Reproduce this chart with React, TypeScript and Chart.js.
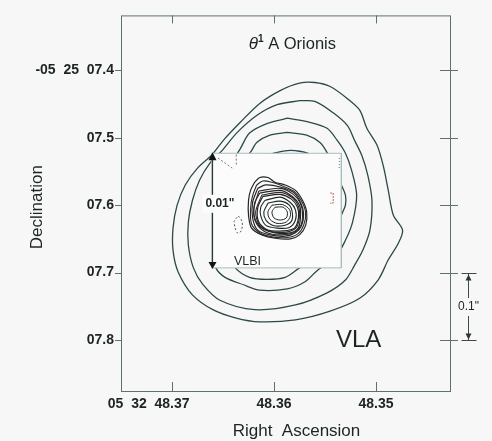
import React, { useEffect, useRef } from 'react';
import { Chart, registerables } from 'chart.js';
Chart.register(...registerables);

// Right Ascension offsets: units of 0.0001 s of time from 05 32 48.3600 (positive = east = left)
// Declination offsets: milliarcsec from -05 25 07.600 (positive = south = down)
const raTickValues = [100, 0, -100];
const raTickLabels = ['48.37', '48.36', '48.35'];
const raTickPrefix = '05  32';
const decTickValues = [-200, -100, 0, 100, 200];
const decTickLabels = ['-05  25  07.4', '07.5', '07.6', '07.7', '07.8'];
const raRange = [150, -172.5];
const decRange = [-281.5, 275.6];

// VLA contours (outer to inner)
const vla1 = [[61,-74],[48,-99],[33,-123],[14,-151],[-6,-170],[-25,-181],[-40,-182],[-55,-176],[-72,-158],[-84,-141],[-91,-114],[-101,-89],[-107,-59],[-112,-22],[-117,15],[-126,37],[-122,56],[-112,81],[-102,111],[-84,138],[-55,157],[-21,170],[14,173],[38,167],[60,155],[80,133],[94,99],[99,67],[99,34],[95,0],[87,-30],[75,-55]];
const vla2 = [[-25,-155],[-40,-154],[-58,-137],[-72,-118],[-79,-96],[-86,-74],[-92,-44],[-96,-7],[-94,37],[-87,67],[-79,89],[-70,111],[-52,130],[-21,148],[19,155],[53,141],[70,117],[79,93],[84,59],[84,25],[80,-7],[73,-37],[63,-62],[51,-81],[36,-108],[17,-133],[-3,-149]];
const vla3 = [[-13,-129],[-35,-123],[-52,-114],[-62,-96],[-70,-77],[-76,-52],[-81,-15],[-77,25],[-70,52],[-60,78],[-43,96],[-30,114],[-13,124],[14,126],[30,118],[48,107],[57,93],[60,67],[59,22],[53,-22],[43,-59],[33,-84],[24,-107],[7,-121]];
const vla4 = [[-13,-108],[-32,-104],[-45,-93],[-52,-78],[-60,-52],[-66,-30],[-70,-15],[-70,0],[-66,15],[-60,44],[-45,74],[-25,93],[-11,107],[7,110],[24,107],[38,93],[48,67],[51,22],[45,-22],[33,-59],[22,-81],[17,-93],[4,-104]];
const vla5 = [[1,-77],[-13,-81],[-25,-80],[-35,-75],[-45,-44],[-40,37],[-6,67],[24,37],[28,-30],[16,-64]];

// VLBI inset box (drawn in the same frame) and its contours
const insetRa = [61, -66];
const insetDec = [-77, 93];
const vlbi1 = [[19,-34],[14,-41],[6,-41],[-1,-34],[-11,-30],[-21,-22],[-28,-7],[-32,10],[-31,30],[-25,44],[-16,50],[-1,49],[12,44],[22,34],[25,15],[25,-7],[23,-22]];
const vlbi1b = [[17,-30],[11,-36],[2,-34],[-9,-28],[-20,-20],[-27,-6],[-31,11],[-29,30],[-23,43],[-13,48],[2,47],[14,41],[22,28],[23,5],[21,-14]];
const vlbi2 = [[16,-25],[8,-30],[-6,-27],[-19,-19],[-26,-4],[-29,12],[-27,30],[-21,41],[-11,46],[4,44],[16,37],[21,19],[21,-4]];
const vlbi2b = [[15,-21],[-6,-25],[-19,-16],[-26,-2],[-28,14],[-26,31],[-19,41],[-6,44],[8,40],[17,28],[20,8]];
const vlbi3 = [[14,-18],[-6,-22],[-18,-13],[-25,0],[-26,15],[-24,33],[-16,41],[-1,41],[12,34],[19,19],[19,-3]];
const vlbi3b = [[12,-15],[-6,-19],[-18,-11],[-24,2],[-25,16],[-22,33],[-12,40],[3,39],[14,30],[18,10]];
const vlbi4 = [[11,-13],[-6,-16],[-17,-9],[-23,3],[-24,18],[-20,34],[-9,38],[6,37],[15,25],[16,4]];
const vlbi5 = [[9,-7],[-6,-12],[-16,-4],[-21,7],[-21,22],[-15,33],[-3,34],[8,30],[13,16],[13,3]];
const vlbi6 = [[6,-3],[-6,-6],[-15,0],[-18,12],[-17,24],[-10,30],[1,30],[8,22],[10,10]];
const vlbi7 = [[2,0],[-8,-1],[-15,6],[-16,16],[-12,25],[-3,27],[4,21],[6,10]];
const vlbi8 = [[-1,3],[-9,3],[-13,10],[-12,19],[-6,22],[0,19],[2,10]];
const vlbiNeg1 = [[35,16],[32,22],[31,31],[33,40],[36,41],[38,34],[39,24]];
const vlbiNeg2 = [[55,-70],[41,-55]];
const vlbiNeg3 = [[37,-75],[37,-59]];
const vlbiNeg4 = [[-55,-18],[-58,-18],[-58,-3],[-55,-3]];
const vlbiNeg5 = [[-64,-70],[-64,-52]];

const scaleBarDec = [100, 200];

const FONT = "'Liberation Sans', Arial, Helvetica, sans-serif";
const BG = '#f7f7f7';
const INSET_BG = '#fcfcfc';
const LINE = '#2c4848';
const VLBI_LINE = '#1e2828';
const VLBI_LINE2 = '#3a2626';
const FRAME = '#5a7272';
const TXT = '#1c2424';

const toPts = (arr: number[][], close: boolean) => {
  const a = close ? arr.concat([arr[0]]) : arr;
  return a.map(([x, y]) => ({ x, y }));
};

const contour = (arr: number[][], color: string, width: number, order: number, close = true, dash: number[] = [], tension = 0.3) => ({
  data: toPts(arr, close),
  showLine: true,
  borderColor: color,
  backgroundColor: color,
  borderWidth: width,
  borderDash: dash,
  pointRadius: 0,
  tension,
  fill: false,
  order,
});

const decor = {
  id: 'decor',
  afterDatasetsDraw(chart: any) {
    const { ctx, scales: { x, y } } = chart;
    ctx.save();
    // arrow along left side of inset (0.01")
    const ax = Math.round(x.getPixelForValue(insetRa[0])) + 0.5;
    const ay0 = y.getPixelForValue(insetDec[0]);
    const ay1 = y.getPixelForValue(insetDec[1]);
    ctx.strokeStyle = '#303838';
    ctx.fillStyle = '#101414';
    ctx.lineWidth = 1.2;
    ctx.beginPath(); ctx.moveTo(ax, ay0 + 5); ctx.lineTo(ax, ay1 - 5); ctx.stroke();
    ctx.beginPath(); ctx.moveTo(ax, ay0 - 1); ctx.lineTo(ax - 4, ay0 + 7); ctx.lineTo(ax + 4, ay0 + 7); ctx.closePath(); ctx.fill();
    ctx.beginPath(); ctx.moveTo(ax, ay1 + 1); ctx.lineTo(ax - 4, ay1 - 6); ctx.lineTo(ax + 4, ay1 - 6); ctx.closePath(); ctx.fill();
    // 0.01" label
    ctx.font = `bold 12px ${FONT}`;
    ctx.textAlign = 'center';
    ctx.textBaseline = 'middle';
    const lx = x.getPixelForValue(53), ly = y.getPixelForValue(-2);
    const lw = ctx.measureText('0.01"').width;
    ctx.fillStyle = INSET_BG;
    ctx.fillRect(lx - lw / 2 - 3, ly - 9, lw + 6, 18);
    ctx.fillStyle = TXT;
    ctx.fillText('0.01"', lx, ly);
    // VLBI label
    ctx.font = `12.5px ${FONT}`;
    ctx.fillText('VLBI', x.getPixelForValue(26), y.getPixelForValue(83));
    // VLA label
    ctx.font = `24px ${FONT}`;
    ctx.fillText('VLA', x.getPixelForValue(-83), y.getPixelForValue(200));
    // Title
    const tx = x.getPixelForValue(-18), ty = y.getPixelForValue(-238);
    ctx.font = `italic 17px ${FONT}`;
    const w1 = ctx.measureText('\u03b8').width;
    ctx.font = `bold 10px ${FONT}`;
    const w2 = ctx.measureText('1').width;
    ctx.font = `16.5px ${FONT}`;
    const w3 = ctx.measureText(' A Orionis').width;
    let sx = tx - (w1 + w2 + w3) / 2;
    ctx.textAlign = 'left';
    ctx.font = `italic 17px ${FONT}`;
    ctx.fillText('\u03b8', sx, ty); sx += w1;
    ctx.font = `bold 10px ${FONT}`;
    ctx.fillText('1', sx, ty - 5); sx += w2;
    ctx.font = `16.5px ${FONT}`;
    ctx.fillText(' A Orionis', sx, ty);
    ctx.restore();
  },
  afterDraw(chart: any) {
    const { ctx, chartArea: { left, right, top, bottom }, scales: { x, y } } = chart;
    ctx.save();
    ctx.strokeStyle = FRAME;
    ctx.lineWidth = 1;
    const seg = (x0: number, y0: number, x1: number, y1: number) => { ctx.beginPath(); ctx.moveTo(x0, y0); ctx.lineTo(x1, y1); ctx.stroke(); };
    ctx.strokeRect(left + 0.5, top + 0.5, right - left, bottom - top);
    raTickValues.forEach((v) => {
      const px = Math.round(x.getPixelForValue(v)) + 0.5;
      seg(px, top, px, top + 8);
      seg(px, bottom, px, bottom - 9);
    });
    decTickValues.forEach((v) => {
      const py = Math.round(y.getPixelForValue(v)) + 0.5;
      seg(left - 6, py, left, py);
      seg(right - 10, py, right + 8, py);
    });
    // prefix of first RA label
    ctx.fillStyle = TXT;
    ctx.font = `bold 14px ${FONT}`;
    ctx.textBaseline = 'middle';
    ctx.textAlign = 'right';
    const w0 = ctx.measureText(raTickLabels[0]).width;
    const sp = ctx.measureText('  ').width;
    ctx.fillText(raTickPrefix, x.getPixelForValue(raTickValues[0]) - w0 / 2 - sp, bottom + 13);
    // axis titles
    ctx.textAlign = 'center';
    ctx.font = `17px ${FONT}`;
    ctx.fillText('Right  Ascension', (left + right) / 2 + 11, bottom + 40);
    ctx.save();
    ctx.translate(37, (top + bottom) / 2 + 4);
    ctx.rotate(-Math.PI / 2);
    ctx.fillText('Declination', 0, 0);
    ctx.restore();
    // 0.1" scale bar
    const bx = right + 18.5;
    const by0 = Math.round(y.getPixelForValue(scaleBarDec[0])) + 0.5;
    const by1 = Math.round(y.getPixelForValue(scaleBarDec[1])) + 0.5;
    ctx.strokeStyle = '#3c4a4a';
    seg(bx, by0, bx, by1);
    seg(bx - 7, by0, bx + 8, by0);
    seg(bx - 7, by1, bx + 8, by1);
    ctx.fillStyle = '#2c3434';
    ctx.beginPath(); ctx.moveTo(bx, by0 + 1); ctx.lineTo(bx - 3, by0 + 7); ctx.lineTo(bx + 3, by0 + 7); ctx.closePath(); ctx.fill();
    ctx.beginPath(); ctx.moveTo(bx, by1 - 1); ctx.lineTo(bx - 3, by1 - 7); ctx.lineTo(bx + 3, by1 - 7); ctx.closePath(); ctx.fill();
    const my = (by0 + by1) / 2;
    ctx.font = `12px ${FONT}`;
    const tw = ctx.measureText('0.1"').width;
    ctx.fillStyle = BG;
    ctx.fillRect(bx - tw / 2 - 2, my - 9, tw + 4, 18);
    ctx.fillStyle = TXT;
    ctx.fillText('0.1"', bx, my);
    ctx.restore();
  },
};

const App = () => {
  const ref = useRef<HTMLCanvasElement>(null);
  useEffect(() => {
    document.body.style.margin = '0';
    document.body.style.background = BG;
    const insetPts = [
      [insetRa[0], insetDec[0]], [insetRa[1], insetDec[0]], [insetRa[1], insetDec[1]], [insetRa[0], insetDec[1]],
    ];
    const datasets: any[] = [
      contour(vla1, LINE, 1.3, 5),
      contour(vla2, LINE, 1.3, 5),
      contour(vla3, LINE, 1.3, 5),
      contour(vla4, LINE, 1.3, 5),
      contour(vla5, LINE, 1.3, 5),
      { ...contour(insetPts, '#a9bcbc', 1, 3, true, [], 0), fill: 'shape', backgroundColor: INSET_BG },
      contour(vlbi1, VLBI_LINE, 1.2, 1),
      contour(vlbi1b, VLBI_LINE2, 1.1, 1),
      contour(vlbi2, VLBI_LINE, 1.2, 1),
      contour(vlbi2b, VLBI_LINE2, 1.1, 1),
      contour(vlbi3, VLBI_LINE, 1.2, 1),
      contour(vlbi3b, VLBI_LINE2, 1.1, 1),
      contour(vlbi4, VLBI_LINE, 1.2, 1),
      contour(vlbi5, VLBI_LINE, 1.1, 1),
      contour(vlbi6, VLBI_LINE, 1.1, 1),
      contour(vlbi7, VLBI_LINE, 1, 1),
      contour(vlbi8, VLBI_LINE, 1, 1),
      contour(vlbiNeg1, '#4a5a5a', 1, 1, true, [2, 2]),
      contour(vlbiNeg2, '#6a7a7a', 1, 1, false, [2, 2], 0),
      contour(vlbiNeg3, '#6a7a7a', 1, 1, false, [2, 2], 0),
      contour(vlbiNeg4, '#c06060', 1, 1, false, [2, 1], 0),
      contour(vlbiNeg5, '#6a7a7a', 1, 1, false, [1, 2], 0),
    ];
    const chart = new Chart(ref.current as HTMLCanvasElement, {
      type: 'scatter',
      data: { datasets },
      options: {
        animation: false,
        responsive: false,
        devicePixelRatio: 1,
        events: [],
        layout: { padding: { top: 15, right: 42, left: 0, bottom: 0 } },
        plugins: { legend: { display: false }, tooltip: { enabled: false }, filler: { propagate: false } },
        scales: {
          x: {
            type: 'linear',
            reverse: true,
            min: raRange[1],
            max: raRange[0],
            grid: { display: false, drawTicks: false },
            border: { display: false },
            afterBuildTicks: (s: any) => { s.ticks = raTickValues.map((v) => ({ value: v })); },
            afterFit: (s: any) => { s.height = 50; },
            ticks: {
              padding: 5,
              maxRotation: 0,
              autoSkip: false,
              color: TXT,
              font: { family: FONT, size: 14, weight: 'bold' },
              callback: (v: any) => raTickLabels[raTickValues.indexOf(Number(v))] ?? '',
            },
          },
          y: {
            type: 'linear',
            reverse: true,
            min: decRange[0],
            max: decRange[1],
            grid: { display: false, drawTicks: false },
            border: { display: false },
            afterBuildTicks: (s: any) => { s.ticks = decTickValues.map((v) => ({ value: v })); },
            afterFit: (s: any) => { s.width = 121; },
            ticks: {
              padding: 7,
              autoSkip: false,
              color: TXT,
              font: { family: FONT, size: 14, weight: 'bold' },
              callback: (v: any) => decTickLabels[decTickValues.indexOf(Number(v))] ?? '',
            },
          },
        },
      },
      plugins: [decor],
    } as any);
    return () => chart.destroy();
  }, []);
  return (
    <div style={{ position: 'absolute', left: 0, top: 0, width: 492, height: 441, background: BG }}>
      <canvas ref={ref} width={492} height={441} style={{ display: 'block', width: 492, height: 441 }} />
    </div>
  );
};

export default App;
